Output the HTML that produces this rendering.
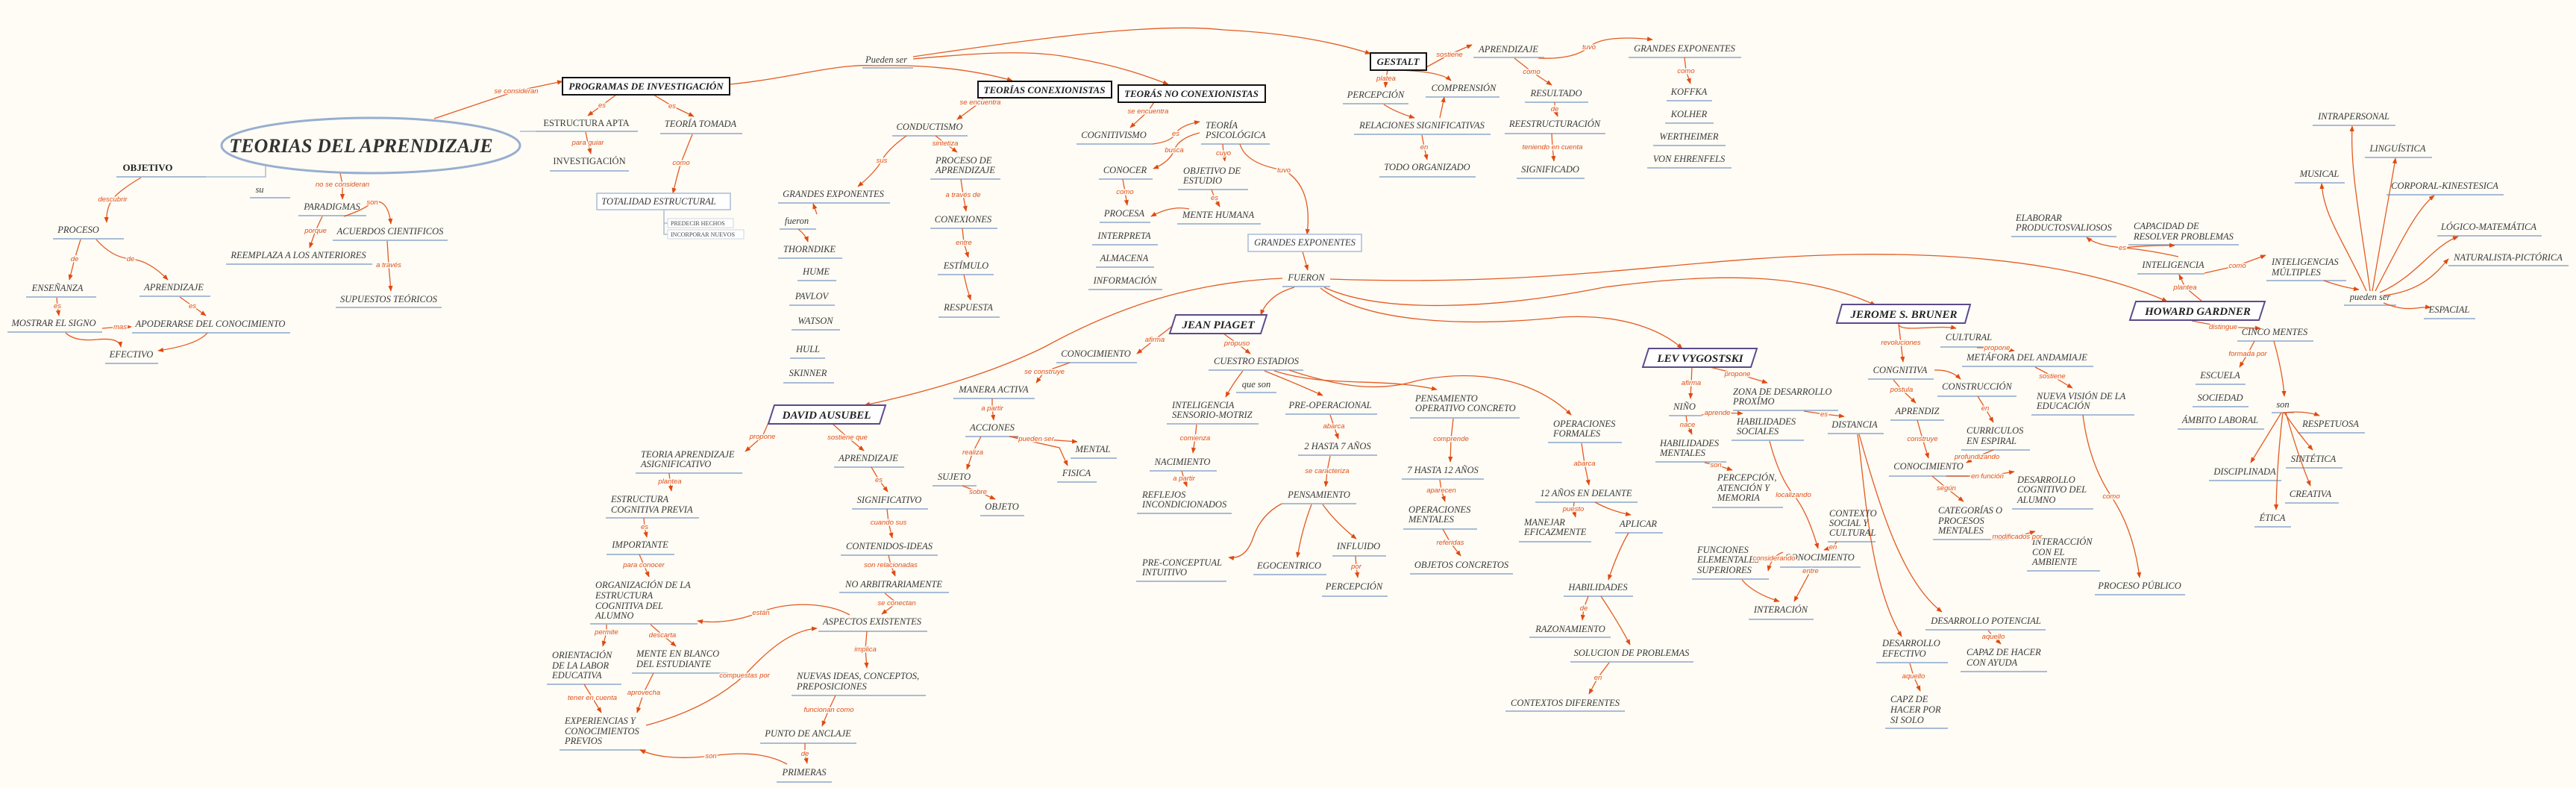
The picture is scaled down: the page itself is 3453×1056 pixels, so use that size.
<!DOCTYPE html>
<html><head><meta charset="utf-8"><style>
html,body{margin:0;padding:0;background:#fefcf5}
svg{display:block}
.n{font-family:"Liberation Serif",serif;font-style:italic;font-size:12.5px;fill:#3a3a3a}
.c{text-anchor:middle}
.l{font-family:"Liberation Sans",sans-serif;font-style:italic;font-size:9.5px;fill:#e0501a;text-anchor:middle;stroke:#fefcf5;stroke-width:3px;paint-order:stroke}
.b{font-family:"Liberation Serif",serif;font-style:italic;font-weight:bold;font-size:13px;fill:#222;text-anchor:middle}
.e{fill:none;stroke:#e55a22;stroke-width:1.3}
.s{font-family:"Liberation Serif",serif;font-size:8px;fill:#444}
</style></head><body>
<svg width="3453" height="1056" viewBox="0 0 3453 1056" xmlns="http://www.w3.org/2000/svg">
<defs><marker id="a" viewBox="0 0 10 10" refX="9" refY="5" markerWidth="6" markerHeight="6" orient="auto"><path d="M0 1L10 5L0 9z" fill="#e04a10"/></marker></defs>
<rect width="3453" height="1056" fill="#fefcf5"/>
<!-- underlines -->
<path fill="none" stroke="#a9bcd6" stroke-width="2" d="M719 176H855 M885 179H995 M737 229H843 M156 237H276 M335 265H389 M400 289H491 M446 322H600 M303 354H499 M450 412H592 M71 320H166 M35 398H129 M187 397H282 M10 445H137 M177 446H389 M141 487H212
M1156 91H1224 M1196 182H1297 M1443 193H1545 M1610 193H1702 M1247 240H1341 M1473 240H1545 M1579 254H1673 M1043 272H1193 M1045 307H1094 M1247 306H1337 M1474 298H1542 M1578 300H1690 M1464 328H1552 M1043 346H1129 M1469 358H1547 M1257 368H1332 M1069 376H1121 M1459 388H1558 M1719 384H1783 M1058 409H1119 M1258 425H1340 M1061 442H1126 M1059 480H1106 M1416 486H1524 M1620 496H1747 M1050 513H1118 M1657 526H1711
M1975 77H2070 M1800 139H1888 M1911 130H2010 M1815 180H1998 M1849 237H1978 M2183 77H2334 M2044 137H2129 M2234 135H2295 M2232 165H2297 M2017 179H2152 M2216 195H2313 M2208 225H2321 M2033 239H2124
M3100 168H3211 M3170 211H3260 M3076 245H3143 M3199 261H3356 M2696 317H2837 M2853 328H3001 M3267 316H3407 M3282 356H3443 M2865 367H2955 M3038 376H3145 M3142 409H3212 M3249 427H3318
M852 634H995 M1118 626H1212 M1278 534H1387 M1294 585H1366 M1435 614H1497 M1417 646H1470 M1250 651H1309 M1314 691H1373 M812 694H937 M1142 682H1244 M813 743H904 M1127 744H1257 M791 836H935 M1125 794H1272 M1097 846H1243 M733 917H833 M847 902H976 M1061 932H1241 M750 1005H866 M1019 996H1148 M1041 1048H1115 M1564 568H1687
M1541 631H1631 M1524 688H1651 M1723 555H1846 M1740 610H1846 M1718 675H1818 M1523 779H1644 M1680 770H1778 M1786 745H1858 M1772 799H1860 M1890 560H2037 M1879 642H1989 M1881 709H1980 M1890 769H2028 M2075 593H2174 M2058 673H2195 M2036 726H2133 M2165 714H2229 M2096 799H2189 M2050 854H2159 M2105 887H2270 M2018 953H2178
M2323 550H2464 M2237 557H2281 M2219 619H2314 M2321 590H2418 M2295 680H2390 M2268 776H2371 M2386 760H2494 M2344 830H2431 M2450 726H2514 M2450 581H2525
M2601 465H2661 M2630 491H2806 M2504 508H2592 M2597 531H2703 M2723 556H2861 M2534 563H2606 M2629 603H2721 M2532 638H2639 M2697 682H2806 M2591 723H2693 M2717 765H2815 M2808 797H2929 M2581 844H2742 M2515 888H2611 M2628 900H2744 M2527 976H2611
M2999 457H3101 M2943 515H3010 M2939 545H3014 M3045 553H3075 M2919 575H3035 M3080 580H3170 M3064 627H3140 M2961 644H3058 M3063 674H3135 M3022 706H3071"/>
<path fill="none" stroke="#a9bcd6" stroke-width="1.5" d="M356 222V237H276 M697 176H719 M890 281V314H895 M890 299H895"/>
<!-- edges -->
<g class="e" marker-end="url(#a)">
<path d="M582 159L692 122L754 109"/>
<path d="M826 127L807 141L788 155"/>
<path d="M876 127L901 142L930 156"/>
<path d="M785 177L788 191L792 206"/>
<path d="M928 180Q916 210 913 218T902 259"/>
<path d="M456 232L459 247L459 267"/>
<path d="M461 290Q490 280 499 271Q520 265 524 300"/>
<path d="M432 290L423 309L415 332"/>
<path d="M519 323L521 355L524 390"/>
<path d="M189 238Q160 255 151 267T143 298"/>
<path d="M108 321L100 347L93 375"/>
<path d="M129 321Q150 345 175 347T225 375"/>
<path d="M76 399L77 410L79 423"/>
<path d="M241 398L258 410L276 423"/>
<path d="M137 440L161 438L176 438"/>
<path d="M88 446Q100 458 130 455T162 465"/>
<path d="M278 446Q265 462 212 470"/>
<path d="M978 113C1060 105 1120 85 1172 88C1250 86 1310 95 1357 108"/>
<path d="M1224 76C1400 50 1550 30 1640 40C1740 45 1800 60 1837 72"/>
<path d="M1224 79C1300 72 1380 65 1440 78C1500 88 1540 103 1566 113"/>
<path d="M1318 131L1314 137L1283 160"/>
<path d="M1547 137L1539 149L1515 171"/>
<path d="M1545 193Q1570 190 1576 179T1608 163"/>
<path d="M1608 178Q1580 185 1574 201T1546 226"/>
<path d="M1639 193L1640 205L1642 216"/>
<path d="M1662 193Q1670 220 1721 228Q1760 250 1752 314"/>
<path d="M1215 182Q1190 200 1182 215T1150 250"/>
<path d="M1254 182L1267 192L1283 204"/>
<path d="M1288 240L1291 261L1295 283"/>
<path d="M1290 306L1292 325L1298 345"/>
<path d="M1292 368L1296 385L1301 402"/>
<path d="M1505 240L1508 257L1511 275"/>
<path d="M1624 254L1628 265L1635 277"/>
<path d="M1594 280Q1570 275 1543 290"/>
<path d="M1095 287L1090 273"/>
<path d="M1070 307Q1080 315 1083 324"/>
<path d="M1746 337L1753 362"/>
<path d="M1719 373C1600 378 1500 410 1400 465C1320 505 1220 530 1159 543"/>
<path d="M1735 385Q1700 395 1690 422"/>
<path d="M1783 374C2100 385 2250 345 2482 341C2700 338 2830 370 2905 404"/>
<path d="M1775 385C1850 420 2000 415 2150 385C2300 365 2420 365 2514 409"/>
<path d="M1770 386C1840 440 2000 435 2093 425C2180 420 2230 445 2255 467"/>
<path d="M1574 435L1548 455L1524 474"/>
<path d="M1640 447L1658 460L1676 474"/>
<path d="M1434 486L1400 498L1389 513"/>
<path d="M1330 534L1330 547L1332 563"/>
<path d="M1353 585L1389 588L1444 592"/>
<path d="M1353 585L1420 600L1431 624"/>
<path d="M1315 585L1304 606L1296 629"/>
<path d="M1290 651L1311 659L1334 669"/>
<path d="M1666 497Q1652 515 1643 532"/>
<path d="M1695 497Q1740 515 1773 530"/>
<path d="M1708 497C1780 520 1850 505 1926 522"/>
<path d="M1728 496C1800 520 1850 525 1900 510C2000 490 2070 520 2106 556"/>
<path d="M1604 569L1602 587L1599 607"/>
<path d="M1584 631L1587 641L1591 652"/>
<path d="M1783 556L1788 571L1794 588"/>
<path d="M1783 611L1779 631L1777 652"/>
<path d="M1718 675Q1690 690 1680 720T1647 747"/>
<path d="M1758 676Q1745 710 1739 747"/>
<path d="M1773 676Q1790 700 1818 722"/>
<path d="M1817 745L1818 759L1820 774"/>
<path d="M1948 561L1945 588L1944 619"/>
<path d="M1930 643L1932 657L1937 672"/>
<path d="M1934 709L1944 727L1958 745"/>
<path d="M2120 594L2124 621L2130 650"/>
<path d="M2110 673L2109 682L2112 693"/>
<path d="M2138 673Q2160 685 2186 690"/>
<path d="M2183 714Q2168 740 2156 777"/>
<path d="M2129 799L2123 815L2121 831"/>
<path d="M2146 799Q2170 835 2185 864"/>
<path d="M2157 888L2142 908L2130 930"/>
<path d="M2268 492L2267 513L2266 534"/>
<path d="M2292 492L2329 501L2369 513"/>
<path d="M2260 557L2262 569L2268 582"/>
<path d="M2281 556L2302 553L2336 554"/>
<path d="M2418 551L2445 555L2472 558"/>
<path d="M2285 620L2300 623L2322 630"/>
<path d="M2372 591Q2385 640 2404 663T2437 735"/>
<path d="M2390 740Q2375 745 2370 765"/>
<path d="M2462 726L2457 733L2445 737"/>
<path d="M2430 760L2427 765L2405 806"/>
<path d="M2335 777Q2350 795 2385 806"/>
<path d="M2490 582C2500 650 2505 780 2549 853"/>
<path d="M2492 582C2520 680 2550 780 2603 820"/>
<path d="M2545 434L2548 459L2551 485"/>
<path d="M2546 436C2550 445 2600 435 2622 440"/>
<path d="M2650 466L2677 466L2700 470"/>
<path d="M2593 496Q2615 495 2628 508"/>
<path d="M2538 509L2549 522L2568 540"/>
<path d="M2728 492L2751 504L2778 520"/>
<path d="M2651 531L2661 547L2672 566"/>
<path d="M2570 563L2577 588L2585 614"/>
<path d="M2672 603L2650 612L2636 620"/>
<path d="M2609 638L2664 638L2700 632"/>
<path d="M2590 638L2609 654L2632 672"/>
<path d="M2690 723L2704 719L2728 712"/>
<path d="M2792 556Q2800 620 2830 665T2868 774"/>
<path d="M2665 845L2672 853L2682 863"/>
<path d="M2560 889L2565 906L2574 926"/>
<path d="M2938 430L2980 438L3030 440"/>
<path d="M2952 404L2929 385L2921 368"/>
<path d="M2920 344Q2880 335 2845 332T2797 318"/>
<path d="M2845 332Q2890 328 2915 329"/>
<path d="M2955 366L2999 356L3037 342"/>
<path d="M3115 376Q3140 385 3162 388"/>
<path d="M3177 390C3165 300 3150 230 3153 169"/>
<path d="M3180 390C3195 300 3205 250 3211 212"/>
<path d="M3172 390C3140 320 3115 290 3112 246"/>
<path d="M3184 390C3220 320 3240 280 3263 262"/>
<path d="M3190 392C3240 370 3260 330 3295 317"/>
<path d="M3195 396C3250 390 3270 360 3282 347"/>
<path d="M3195 406C3230 420 3240 410 3258 412"/>
<path d="M3022 457L3013 474L3002 492"/>
<path d="M3048 457Q3060 500 3062 531"/>
<path d="M3060 553Q3090 550 3109 557"/>
<path d="M3058 553L3017 620"/>
<path d="M3062 553Q3080 580 3100 603"/>
<path d="M3064 553Q3080 610 3097 651"/>
<path d="M3060 553Q3052 620 3051 683"/>
<path d="M1035 555L1022 585L999 605"/>
<path d="M1116 568L1136 586L1158 604"/>
<path d="M897 634L898 645L900 658"/>
<path d="M1168 626L1178 643L1190 659"/>
<path d="M863 694L864 706L867 720"/>
<path d="M1189 682L1191 700L1196 721"/>
<path d="M857 743L863 757L870 773"/>
<path d="M1191 744L1194 757L1200 772"/>
<path d="M1186 795L1202 808L1182 823"/>
<path d="M1139 824C1110 808 1060 805 1020 820C990 832 960 836 935 832"/>
<path d="M813 837L813 847L808 866"/>
<path d="M872 837L888 851L906 866"/>
<path d="M1162 846L1160 870L1162 895"/>
<path d="M783 917L794 935L806 955"/>
<path d="M876 902L863 928L854 955"/>
<path d="M866 972C930 955 970 930 998 905C1030 870 1060 845 1095 842"/>
<path d="M1120 932L1111 951L1102 973"/>
<path d="M1079 996L1079 1010L1082 1023"/>
<path d="M1055 1024C1020 1005 980 1010 953 1013C910 1018 880 1015 858 1005"/>
<path d="M1912 90L1943 73L1973 60"/>
<path d="M1860 94L1858 105L1857 117"/>
<path d="M1870 94Q1930 95 1945 108"/>
<path d="M1855 140Q1870 150 1896 158"/>
<path d="M1930 158L1936 130"/>
<path d="M1906 181L1909 197L1913 214"/>
<path d="M2062 78Q2110 80 2130 63T2215 53"/>
<path d="M2030 78L2053 96L2080 114"/>
<path d="M2084 137L2084 146L2088 156"/>
<path d="M2080 179L2081 197L2083 216"/>
<path d="M2258 77L2260 95L2266 112"/>
</g>
<!-- central ellipse -->
<ellipse cx="497" cy="195" rx="200" ry="37" fill="#fefcf5" stroke="#98aed0" stroke-width="3"/>
<text x="484" y="204" style="font-family:'Liberation Serif',serif;font-style:italic;font-weight:bold;font-size:26px;fill:#333;text-anchor:middle">TEORIAS DEL APRENDIZAJE</text>
<!-- boxes -->
<g fill="#fff" stroke="#111" stroke-width="2">
<rect x="754" y="104" width="224" height="23"/>
<rect x="1311" y="109" width="179" height="22"/>
<rect x="1499" y="114" width="197" height="23"/>
<rect x="1837" y="71" width="75" height="23"/>
</g>
<rect x="800" y="259" width="179" height="22" fill="#fff" stroke="#a9bcd6" stroke-width="1.5"/>
<rect x="1673" y="314" width="152" height="23" fill="#fff" stroke="#a9bcd6" stroke-width="1.5"/>
<rect x="895" y="293" width="88" height="12" fill="#fff" stroke="#ccd6e4"/>
<rect x="895" y="308" width="102" height="12" fill="#fff" stroke="#ccd6e4"/>
<g fill="#fff" stroke="#5c4a8a" stroke-width="2">
<path d="M1576 422H1698L1690 447H1568Z"/>
<path d="M1038 543H1187L1179 568H1030Z"/>
<path d="M2469 408H2641L2634 433H2462Z"/>
<path d="M2863 404H3036L3028 429H2855Z"/>
<path d="M2210 467H2355L2347 492H2202Z"/>
</g>
<text class="b" x="866" y="120">PROGRAMAS DE INVESTIGACIÓN</text>
<text class="b" x="1400" y="125">TEORÍAS CONEXIONISTAS</text>
<text class="b" x="1597" y="130">TEORÁS NO CONEXIONISTAS</text>
<text class="b" x="1874" y="87">GESTALT</text>
<text class="b" x="1633" y="440" style="font-size:15px">JEAN PIAGET</text>
<text class="b" x="1108" y="561" style="font-size:15px">DAVID AUSUBEL</text>
<text class="b" x="2552" y="426" style="font-size:15px">JEROME S. BRUNER</text>
<text class="b" x="2946" y="422" style="font-size:15px">HOWARD GARDNER</text>
<text class="b" x="2279" y="485" style="font-size:15px">LEV VYGOSTSKI</text>
<text x="198" y="229" style="font-family:'Liberation Serif',serif;font-weight:bold;font-size:13px;fill:#222;text-anchor:middle">OBJETIVO</text>
<text class="s" x="899" y="302">PREDECIR HECHOS</text>
<text class="s" x="899" y="317">INCORPORAR NUEVOS</text>
<!-- node texts -->
<g class="n c">
<text x="786" y="169" style="font-style:normal">ESTRUCTURA APTA</text>
<text x="939" y="170">TEORÍA TOMADA</text>
<text x="790" y="220" style="font-style:normal">INVESTIGACIÓN</text>
<text x="883" y="274">TOTALIDAD ESTRUCTURAL</text>
<text x="348" y="258">su</text>
<text x="445" y="281">PARADIGMAS</text>
<text x="523" y="314">ACUERDOS CIENTIFICOS</text>
<text x="400" y="346">REEMPLAZA A LOS ANTERIORES</text>
<text x="521" y="405">SUPUESTOS TEÓRICOS</text>
<text x="105" y="312">PROCESO</text>
<text x="77" y="390">ENSEÑANZA</text>
<text x="233" y="389">APRENDIZAJE</text>
<text x="72" y="437">MOSTRAR EL SIGNO</text>
<text x="282" y="438">APODERARSE DEL CONOCIMIENTO</text>
<text x="176" y="479">EFECTIVO</text>
<text x="1188" y="84">Pueden ser</text>
<text x="1246" y="174">CONDUCTISMO</text>
<text x="1493" y="185">COGNITIVISMO</text>
<text x="1508" y="232">CONOCER</text>
<text x="1117" y="264">GRANDES EXPONENTES</text>
<text x="1068" y="300">fueron</text>
<text x="1291" y="298">CONEXIONES</text>
<text x="1507" y="290">PROCESA</text>
<text x="1633" y="292">MENTE HUMANA</text>
<text x="1507" y="320">INTERPRETA</text>
<text x="1749" y="329">GRANDES EXPONENTES</text>
<text x="1085" y="338">THORNDIKE</text>
<text x="1507" y="350">ALMACENA</text>
<text x="1295" y="360">ESTÍMULO</text>
<text x="1094" y="368">HUME</text>
<text x="1508" y="380">INFORMACIÓN</text>
<text x="1751" y="376">FUERON</text>
<text x="1088" y="401">PAVLOV</text>
<text x="1298" y="416">RESPUESTA</text>
<text x="1093" y="434">WATSON</text>
<text x="1083" y="472">HULL</text>
<text x="1469" y="478">CONOCIMIENTO</text>
<text x="1684" y="488">CUESTRO ESTADIOS</text>
<text x="1083" y="504">SKINNER</text>
<text x="1684" y="519">que son</text>
<text x="1332" y="526">MANERA ACTIVA</text>
<text x="2022" y="70">APRENDIZAJE</text>
<text x="1844" y="131">PERCEPCIÓN</text>
<text x="1962" y="122">COMPRENSIÓN</text>
<text x="1906" y="172">RELACIONES SIGNIFICATIVAS</text>
<text x="1913" y="228">TODO ORGANIZADO</text>
<text x="2258" y="69">GRANDES EXPONENTES</text>
<text x="2086" y="129">RESULTADO</text>
<text x="2264" y="127">KOFFKA</text>
<text x="2264" y="157">KOLHER</text>
<text x="2084" y="170">REESTRUCTURACIÓN</text>
<text x="2264" y="187">WERTHEIMER</text>
<text x="2264" y="217">VON EHRENFELS</text>
<text x="2078" y="231">SIGNIFICADO</text>
<text x="3155" y="160">INTRAPERSONAL</text>
<text x="3214" y="203">LINGUÍSTICA</text>
<text x="3109" y="237">MUSICAL</text>
<text x="3277" y="253">CORPORAL-KINESTESICA</text>
<text x="3336" y="308">LÓGICO-MATEMÁTICA</text>
<text x="3362" y="349">NATURALISTA-PICTÓRICA</text>
<text x="2913" y="359">INTELIGENCIA</text>
<text x="3177" y="402">pueden ser</text>
<text x="3283" y="419">ESPACIAL</text>
<text x="1164" y="618">APRENDIZAJE</text>
<text x="1330" y="577">ACCIONES</text>
<text x="1465" y="606">MENTAL</text>
<text x="1443" y="638">FISICA</text>
<text x="1279" y="643">SUJETO</text>
<text x="1343" y="683">OBJETO</text>
<text x="1192" y="674">SIGNIFICATIVO</text>
<text x="858" y="734">IMPORTANTE</text>
<text x="1192" y="736">CONTENIDOS-IDEAS</text>
<text x="1198" y="787">NO ARBITRARIAMENTE</text>
<text x="1169" y="837">ASPECTOS EXISTENTES</text>
<text x="1083" y="987">PUNTO DE ANCLAJE</text>
<text x="1078" y="1039">PRIMERAS</text>
<text x="1585" y="623">NACIMIENTO</text>
<text x="1783" y="547">PRE-OPERACIONAL</text>
<text x="1793" y="602">2 HASTA 7 AÑOS</text>
<text x="1768" y="667">PENSAMIENTO</text>
<text x="1728" y="762">EGOCENTRICO</text>
<text x="1821" y="736">INFLUIDO</text>
<text x="1815" y="790">PERCEPCIÓN</text>
<text x="1934" y="634">7 HASTA 12 AÑOS</text>
<text x="1959" y="761">OBJETOS CONCRETOS</text>
<text x="2126" y="665">12 AÑOS EN DELANTE</text>
<text x="2196" y="706">APLICAR</text>
<text x="2142" y="791">HABILIDADES</text>
<text x="2105" y="847">RAZONAMIENTO</text>
<text x="2187" y="879">SOLUCION DE PROBLEMAS</text>
<text x="2098" y="946">CONTEXTOS DIFERENTES</text>
<text x="2258" y="549">NIÑO</text>
<text x="2439" y="751">CONOCIMIENTO</text>
<text x="2387" y="821">INTERACIÓN</text>
<text x="2486" y="573">DISTANCIA</text>
<text x="2639" y="456">CULTURAL</text>
<text x="2717" y="483">METÁFORA DEL ANDAMIAJE</text>
<text x="2547" y="500">CONGNITIVA</text>
<text x="2650" y="522">CONSTRUCCIÓN</text>
<text x="2570" y="555">APRENDIZ</text>
<text x="2585" y="629">CONOCIMIENTO</text>
<text x="2868" y="789">PROCESO PÚBLICO</text>
<text x="2662" y="836">DESARROLLO POTENCIAL</text>
<text x="3049" y="449">CINCO MENTES</text>
<text x="2976" y="507">ESCUELA</text>
<text x="2976" y="537">SOCIEDAD</text>
<text x="3060" y="546">son</text>
<text x="2976" y="567">ÁMBITO LABORAL</text>
<text x="3124" y="572">RESPETUOSA</text>
<text x="3101" y="619">SINTÉTICA</text>
<text x="3009" y="636">DISCIPLINADA</text>
<text x="3097" y="666">CREATIVA</text>
<text x="3046" y="698">ÉTICA</text>
</g>
<g class="n">
<text x="1254" y="219">PROCESO DE</text><text x="1254" y="232">APRENDIZAJE</text>
<text x="1616" y="172">TEORÍA</text><text x="1616" y="185">PSICOLÓGICA</text>
<text x="1586" y="233">OBJETIVO DE</text><text x="1586" y="246">ESTUDIO</text>
<text x="2702" y="296">ELABORAR</text><text x="2702" y="309">PRODUCTOSVALIOSOS</text>
<text x="2860" y="307">CAPACIDAD DE</text><text x="2860" y="321">RESOLVER PROBLEMAS</text>
<text x="3045" y="355">INTELIGENCIAS</text><text x="3045" y="369">MÚLTIPLES</text>
<text x="859" y="613">TEORIA APRENDIZAJE</text><text x="859" y="626">ASIGNIFICATIVO</text>
<text x="819" y="673">ESTRUCTURA</text><text x="819" y="687">COGNITIVA PREVIA</text>
<text x="798" y="788">ORGANIZACIÓN DE LA</text><text x="798" y="802">ESTRUCTURA</text><text x="798" y="816">COGNITIVA DEL</text><text x="798" y="829">ALUMNO</text>
<text x="740" y="882">ORIENTACIÓN</text><text x="740" y="896">DE LA LABOR</text><text x="740" y="909">EDUCATIVA</text>
<text x="853" y="880">MENTE EN BLANCO</text><text x="853" y="894">DEL ESTUDIANTE</text>
<text x="1068" y="910">NUEVAS IDEAS, CONCEPTOS,</text><text x="1068" y="924">PREPOSICIONES</text>
<text x="757" y="970">EXPERIENCIAS Y</text><text x="757" y="984">CONOCIMIENTOS</text><text x="757" y="997">PREVIOS</text>
<text x="1571" y="547">INTELIGENCIA</text><text x="1571" y="560">SENSORIO-MOTRIZ</text>
<text x="1531" y="667">REFLEJOS</text><text x="1531" y="680">INCONDICIONADOS</text>
<text x="1531" y="758">PRE-CONCEPTUAL</text><text x="1531" y="771">INTUITIVO</text>
<text x="1897" y="538">PENSAMIENTO</text><text x="1897" y="551">OPERATIVO CONCRETO</text>
<text x="1888" y="687">OPERACIONES</text><text x="1888" y="700">MENTALES</text>
<text x="2082" y="572">OPERACIONES</text><text x="2082" y="585">FORMALES</text>
<text x="2043" y="704">MANEJAR</text><text x="2043" y="717">EFICAZMENTE</text>
<text x="2323" y="529">ZONA DE DESARROLLO</text><text x="2323" y="542">PROXÍMO</text>
<text x="2225" y="598">HABILIDADES</text><text x="2225" y="611">MENTALES</text>
<text x="2328" y="569">HABILIDADES</text><text x="2328" y="582">SOCIALES</text>
<text x="2302" y="644">PERCEPCIÓN,</text><text x="2302" y="658">ATENCIÓN Y</text><text x="2302" y="671">MEMORIA</text>
<text x="2275" y="741">FUNCIONES</text><text x="2275" y="754">ELEMENTALES</text><text x="2275" y="768">SUPERIORES</text>
<text x="2452" y="692">CONTEXTO</text><text x="2452" y="705">SOCIAL Y</text><text x="2452" y="718">CULTURAL</text>
<text x="2730" y="535">NUEVA VISIÓN DE LA</text><text x="2730" y="548">EDUCACIÓN</text>
<text x="2636" y="581">CURRICULOS</text><text x="2636" y="595">EN ESPIRAL</text>
<text x="2704" y="647">DESARROLLO</text><text x="2704" y="660">COGNITIVO DEL</text><text x="2704" y="674">ALUMNO</text>
<text x="2598" y="688">CATEGORÍAS O</text><text x="2598" y="702">PROCESOS</text><text x="2598" y="715">MENTALES</text>
<text x="2724" y="730">INTERACCIÓN</text><text x="2724" y="744">CON EL</text><text x="2724" y="757">AMBIENTE</text>
<text x="2523" y="866">DESARROLLO</text><text x="2523" y="880">EFECTIVO</text>
<text x="2636" y="878">CAPAZ DE HACER</text><text x="2636" y="892">CON AYUDA</text>
<text x="2534" y="941">CAPZ DE</text><text x="2534" y="955">HACER POR</text><text x="2534" y="969">SI SOLO</text>
</g>
<!-- labels -->
<g class="l">
<text x="692" y="125">se consideran</text><text x="807" y="144">es</text><text x="901" y="145">es</text>
<text x="788" y="194">para guiar</text><text x="913" y="221">como</text><text x="459" y="250">no se consideran</text>
<text x="499" y="274">son</text><text x="423" y="312">porque</text><text x="521" y="358">a través</text>
<text x="151" y="270">descubrir</text><text x="100" y="350">de</text><text x="175" y="350">de</text>
<text x="77" y="413">es</text><text x="258" y="413">es</text><text x="161" y="441">mas</text>
<text x="1314" y="140">se encuentra</text><text x="1539" y="152">se encuentra</text><text x="1576" y="182">es</text>
<text x="1574" y="204">busca</text><text x="1640" y="208">cuyo</text><text x="1721" y="231">tuvo</text>
<text x="1182" y="218">sus</text><text x="1267" y="195">sintetiza</text><text x="1291" y="264">a través de</text>
<text x="1508" y="260">como</text><text x="1628" y="268">es</text><text x="1292" y="328">entre</text>
<text x="1548" y="458">afirma</text><text x="1658" y="463">propuso</text><text x="1400" y="501">se construye</text>
<text x="1330" y="550">a partir</text><text x="1389" y="591">pueden ser</text><text x="1304" y="609">realiza</text>
<text x="1311" y="662">sobre</text><text x="1602" y="590">comienza</text><text x="1587" y="644">a partir</text>
<text x="1788" y="574">abarca</text><text x="1779" y="634">se caracteriza</text><text x="1818" y="762">por</text>
<text x="1945" y="591">comprende</text><text x="1932" y="660">aparecen</text><text x="1944" y="730">referidas</text>
<text x="2124" y="624">abarca</text><text x="2109" y="685">puesto</text><text x="2123" y="818">de</text><text x="2142" y="911">en</text>
<text x="2267" y="516">afirma</text><text x="2329" y="504">propone</text><text x="2262" y="572">nace</text>
<text x="2302" y="556">aprende</text><text x="2445" y="558">es</text><text x="2300" y="626">son</text>
<text x="2404" y="666">localizando</text><text x="2378" y="751">considerando</text><text x="2457" y="736">en</text><text x="2427" y="768">entre</text>
<text x="2548" y="462">revoluciones</text><text x="2677" y="469">propone</text><text x="2751" y="507">sostiene</text>
<text x="2549" y="525">postula</text><text x="2661" y="550">en</text><text x="2577" y="591">construye</text>
<text x="2650" y="615">profundizando</text><text x="2664" y="641">en función</text><text x="2609" y="657">según</text>
<text x="2704" y="722">modificados por</text><text x="2830" y="668">como</text><text x="2672" y="856">aquello</text>
<text x="2565" y="909">aquello</text><text x="2980" y="441">distingue</text><text x="2929" y="388">plantea</text>
<text x="2845" y="335">es</text><text x="2999" y="359">como</text><text x="3013" y="477">formada por</text>
<text x="1022" y="588">propone</text><text x="1136" y="589">sostiene que</text><text x="898" y="648">plantea</text>
<text x="1178" y="646">es</text><text x="864" y="709">es</text><text x="1191" y="703">cuando sus</text>
<text x="863" y="760">para conocer</text><text x="1194" y="760">son relacionadas</text><text x="1202" y="811">se conectan</text>
<text x="1020" y="824">están</text><text x="813" y="850">permite</text><text x="888" y="854">descarta</text>
<text x="1160" y="873">implica</text><text x="998" y="908">compuestas por</text><text x="794" y="938">tener en cuenta</text>
<text x="863" y="931">aprovecha</text><text x="1111" y="954">funcionan como</text><text x="1079" y="1013">de</text><text x="953" y="1016">son</text>
<text x="1943" y="76">sostiene</text><text x="1858" y="108">platea</text><text x="1909" y="200">en</text>
<text x="2130" y="66">tuvo</text><text x="2053" y="99">como</text><text x="2260" y="98">como</text>
<text x="2084" y="149">de</text><text x="2081" y="200">teniendo en cuenta</text>
</g>
</svg>
</body></html>
